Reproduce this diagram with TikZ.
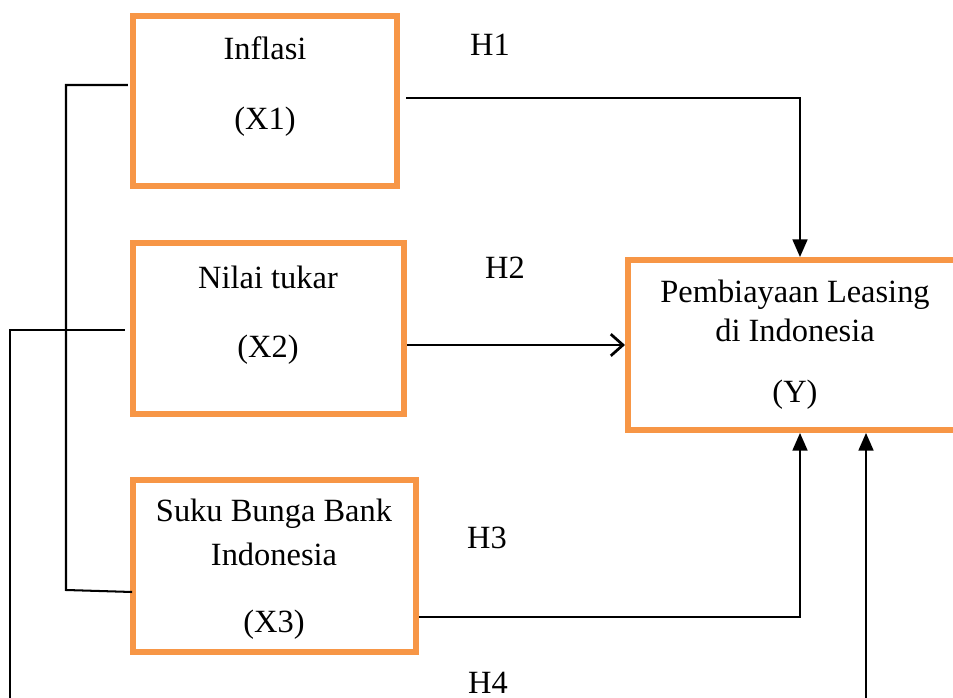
\documentclass[tikz,border=0pt]{standalone}
\usepackage{fontspec}
\setmainfont{Liberation Serif}
\usepackage{tikz}
\usetikzlibrary{arrows.meta,positioning,calc}
\definecolor{boxorange}{RGB}{247,150,70}
\definecolor{linegray}{RGB}{0,0,0}

\begin{document}
\begin{tikzpicture}[
    x=0.37pt, y=-0.37pt,
    every node/.style={font=\fontsize{12}{14}\selectfont},
    varbox/.style={rectangle, draw=boxorange, line width=2.2pt, inner sep=0pt},
    lbl/.style={inner sep=0pt, anchor=center},
    link/.style={draw=linegray, line width=0.75pt},
    solidtip/.style={-{Triangle[length=6.5pt,width=5.5pt]}},
    opentip/.style={-{Straight Barb[length=4.5pt,width=8pt,line width=1pt]}}
]
    \clip (0,0) rectangle (953,698);
    \useasboundingbox (0,0) rectangle (953,698);

    % variable boxes
    \node (x1) [varbox, minimum width=97.7pt, minimum height=62.9pt] at (265,101) {};
    \node (x2) [varbox, minimum width=100.3pt, minimum height=63.3pt] at (268.5,328.5) {};
    \node (x3) [varbox, minimum width=104.7pt, minimum height=63.6pt] at (274.5,566) {};
    \node (y) [varbox, minimum width=127.3pt, minimum height=62.9pt] at (800,345) {};

    % box texts
    \node (x1a) [lbl] at (265,48) {Inflasi};
    \node (x1b) [lbl] at (265,122) {(X1)};
    \node (x2a) [lbl] at (268,277) {Nilai tukar};
    \node (x2b) [lbl] at (268,350) {(X2)};
    \node (x3a) [lbl] at (274,514) {Suku Bunga Bank};
    \node (x3b) [lbl] at (274,554) {Indonesia};
    \node (x3c) [lbl] at (274,625) {(X3)};
    \node (ya) [lbl] at (795,295) {Pembiayaan Leasing};
    \node (yb) [lbl] at (795,330) {di Indonesia};
    \node (yc) [lbl] at (795,395) {(Y)};

    % hypotheses
    \node (h1) [lbl] at (490,45) {H1};
    \node (h2) [lbl] at (505,268) {H2};
    \node (h3) [lbl] at (487,538) {H3};
    \node (h4) [lbl] at (488,683) {H4};

    % corner points of the side lines
    \coordinate (ltop) at (66,85);
    \coordinate (lbot) at (66,590);
    \coordinate (otop) at (10,330);
    \coordinate (obot) at (10,720);
    \coordinate (rbot) at (866,720);

    \draw[link, solidtip] ($(x1.east)+(6,-3)$) -| (y.north);
    \draw[link, opentip] (x2.east |- y.west) -- (y.west);
    \draw[link, solidtip] ($(x3.east)+(0,51)$) -| (y.south);
    \draw[link] ($(x1.west)+(-2,-16)$) -- (ltop) -- (lbot) -- ($(x3.west)+(2,26)$);
    \draw[link, solidtip] ($(x2.west)+(-5,1.5)$) -- (otop) -- (obot) -- (rbot) -- ($(y.south)+(66,0)$);

\end{tikzpicture}
\end{document}
